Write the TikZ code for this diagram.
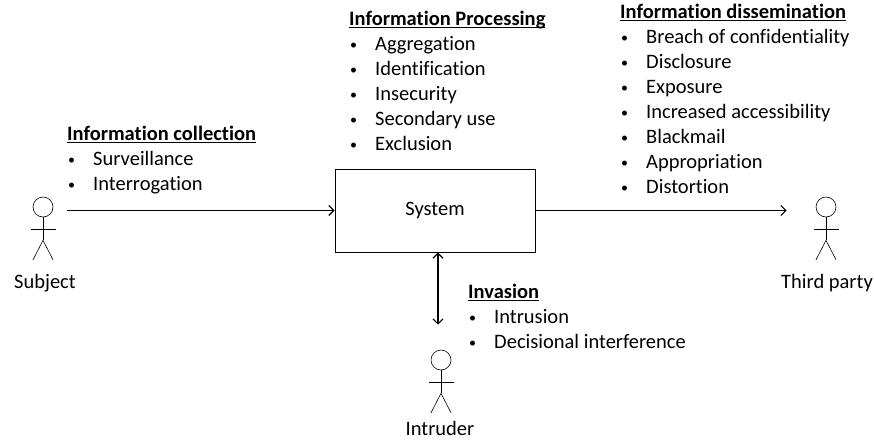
\documentclass[tikz,border=0pt]{standalone}
\usepackage{fontspec}
\setmainfont{Carlito}[Ligatures=NoCommon]
\usetikzlibrary{positioning,arrows.meta}
\newcommand\hd[1]{\setbox0\hbox{\textbf{#1}}\rlap{\rule[-2.6pt]{\wd0}{1pt}}\box0}
\newcommand\itm[1]{\hspace*{1pt}\makebox[25pt][l]{\raisebox{1pt}{\fontsize{14}{14}\selectfont\textbullet}}#1}
\tikzset{
  actor/.style={draw,shape=circle,minimum size=20pt,inner sep=0pt,line width=0.6pt},
  lst/.style={anchor=north west,align=left,inner sep=0pt,font=\fontsize{20.5}{25}\selectfont},
  lbl/.style={inner sep=1pt,font=\fontsize{20.5}{25}\selectfont},
  flow/.style={-{Straight Barb[length=5pt,width=10pt]},line width=1.2pt},
}
\begin{document}
\begin{tikzpicture}[x=1pt,y=-1pt]
\useasboundingbox (0,0) rectangle (874,439);
\node [draw,line width=0.8pt,minimum width=200pt,minimum height=83pt,lbl,name=sys] at (435,210.5){System};
\node [actor,name=sub] at (43,207){};
\node [actor,name=thd] at (826,207){};
\node [actor,name=intr] at (441,360){};
\foreach \a in {sub,thd,intr}{
  \draw[line width=0.6pt] (\a.south) -- ++(0,23) coordinate (\a-hip);
  \draw[line width=0.6pt] ([yshift=-11.5pt]\a.south) +(-12.5,0) -- +(12.5,0);
  \draw[line width=0.6pt] (\a-hip) -- +(-10,19.5) (\a-hip) -- +(10,19.5);
}
\node [lbl,name=subl] at (45,283){Subject};
\node [lbl,name=thdl] at (827,283){Third party};
\node [lbl,name=intrl] at (440,428.5){Intruder};
\node [lst,name=coll] at (67,126){\hd{Information collection}\\ \itm{Surveillance}\\ \itm{Interrogation}};
\node [lst,name=proc] at (349,11){\hd{Information Processing}\\ \itm{Aggregation}\\ \itm{Identification}\\ \itm{Insecurity}\\ \itm{Secondary use}\\ \itm{Exclusion}};
\node [lst,name=diss] at (620,4){\hd{Information dissemination}\\ \itm{Breach of confidentiality}\\ \itm{Disclosure}\\ \itm{Exposure}\\ \itm{Increased accessibility}\\ \itm{Blackmail}\\ \itm{Appropriation}\\ \itm{Distortion}};
\node [lst,name=inv] at (468,284){\hd{Invasion}\\ \itm{Intrusion}\\ \itm{Decisional interference}};
\draw[flow] ([xshift=14pt]sub.east |- sys.west)--(sys.west);
\draw[flow] (sys.east)--([xshift=-29pt]thd.west |- sys.east);
\draw[flow,{Straight Barb[length=5pt,width=10pt]}-{Straight Barb[length=5pt,width=10pt]}] ([xshift=3pt]sys.south)--([xshift=-3pt,yshift=25pt]intr.north);
\end{tikzpicture}
\end{document}
